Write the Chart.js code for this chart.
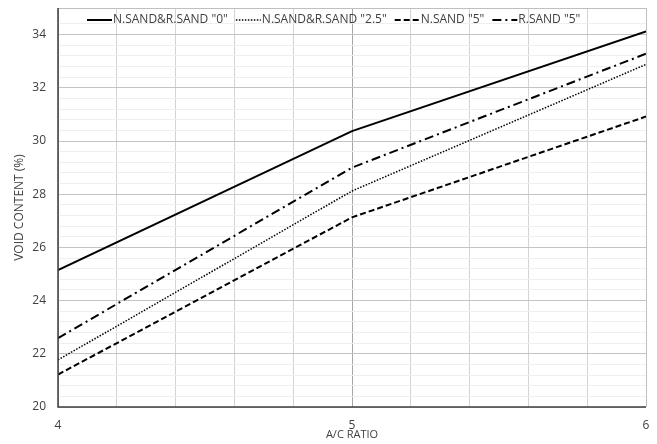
<!DOCTYPE html>
<html>
<head>
<meta charset="utf-8">
<script src="https://cdn.jsdelivr.net/npm/chart.js@4"></script>
<style>
  html, body { margin: 0; padding: 0; background: #fff; }
  #wrap { width: 657px; height: 444px; }
</style>
</head>
<body>
<div id="wrap"><canvas id="chart" width="657" height="444"></canvas></div>
<script>
const ratios = [4, 5, 6];
const sand0 = [25.15, 30.37, 34.12];
const sand25 = [21.77, 28.12, 32.88];
const nsand5 = [21.22, 27.13, 30.92];
const rsand5 = [22.59, 29.0, 33.28];
const labels = ['N.SAND&R.SAND "0"', 'N.SAND&R.SAND "2.5"', 'N.SAND "5"', 'R.SAND "5"'];

const FONT = "'Open Sans', 'DejaVu Sans', sans-serif";

function pts(ys) {
  return ratios.map((x, i) => ({ x: x, y: ys[i] }));
}

const styles = [
  { dash: [], width: 2 },
  { dash: [1.5, 1.5], width: 1.5 },
  { dash: [6, 3], width: 2 },
  { dash: [9, 4, 2, 4], width: 2 }
];

const series = [sand0, sand25, nsand5, rsand5];

const datasets = series.map((s, i) => ({
  label: labels[i],
  data: pts(s),
  borderColor: '#000',
  borderWidth: styles[i].width,
  borderDash: styles[i].dash,
  pointRadius: 0,
  tension: 0,
  fill: false
}));

// legend drawn inside the plot, along the top edge
const innerLegend = {
  id: 'innerLegend',
  afterDatasetsDraw(chart) {
    const ctx = chart.ctx;
    const y = chart.chartArea.top + 12;
    let x = 87;
    ctx.save();
    ctx.font = '12px ' + FONT;
    ctx.textBaseline = 'middle';
    ctx.fillStyle = '#404040';
    chart.data.datasets.forEach(ds => {
      ctx.beginPath();
      ctx.setLineDash(ds.borderDash);
      ctx.lineWidth = ds.borderWidth;
      ctx.strokeStyle = '#000';
      ctx.moveTo(x, y);
      ctx.lineTo(x + 25, y);
      ctx.stroke();
      ctx.setLineDash([]);
      x += 26;
      ctx.fillText(ds.label, x, y);
      x += ctx.measureText(ds.label).width + 8;
    });
    ctx.restore();
  }
};

// frame: dark left/bottom axis lines, grey top/right border
const frame = {
  id: 'frame',
  afterDatasetsDraw(chart) {
    const a = chart.chartArea;
    const ctx = chart.ctx;
    ctx.save();
    ctx.lineWidth = 1;
    ctx.strokeStyle = '#bfbfbf';
    ctx.beginPath();
    ctx.moveTo(a.left, a.top + 0.5);
    ctx.lineTo(a.right + 0.5, a.top + 0.5);
    ctx.lineTo(a.right + 0.5, a.bottom);
    ctx.stroke();
    ctx.lineWidth = 1.5;
    ctx.strokeStyle = '#404040';
    ctx.beginPath();
    ctx.moveTo(a.left, a.top);
    ctx.lineTo(a.left, a.bottom);
    ctx.lineTo(a.right, a.bottom);
    ctx.stroke();
    ctx.restore();
  }
};

function near(v, step) {
  return Math.abs(v / step - Math.round(v / step)) < 1e-6;
}

new Chart(document.getElementById('chart'), {
  type: 'line',
  data: { datasets: datasets },
  options: {
    responsive: false,
    animation: false,
    layout: { padding: { top: 8, right: 11, left: 0, bottom: 0 } },
    plugins: {
      legend: { display: false },
      tooltip: { enabled: false }
    },
    scales: {
      x: {
        type: 'linear',
        min: 4,
        max: 6,
        afterFit(scale) {
          scale.height = 37;
          scale.paddingLeft = 0;
          scale.paddingRight = 0;
        },
        ticks: {
          stepSize: 0.2,
          autoSkip: false,
          maxRotation: 0,
          padding: 11,
          color: '#404040',
          font: { family: FONT, size: 12 },
          callback: v => near(v, 1) ? String(Math.round(v)) : ''
        },
        grid: {
          drawTicks: false,
          lineWidth: 1,
          color: c => near(c.tick.value, 1) ? '#a6a6a6' : '#d4d4d4'
        },
        border: { display: false },
        title: {
          display: true,
          text: 'A/C RATIO',
          color: '#404040',
          font: { family: FONT, size: 11 },
          padding: { top: 0, bottom: 3 }
        }
      },
      y: {
        type: 'linear',
        min: 20,
        max: 35,
        afterFit(scale) {
          scale.width = 58;
          scale.paddingTop = 0;
          scale.paddingBottom = 0;
        },
        ticks: {
          stepSize: 0.4,
          autoSkip: false,
          padding: 12,
          color: '#404040',
          font: { family: FONT, size: 12 },
          callback: v => (near(v, 2) && v < 35) ? String(Math.round(v)) : ''
        },
        grid: {
          drawTicks: false,
          lineWidth: 1,
          color: c => near(c.tick.value, 2) ? '#c4c4c4' : '#efefef'
        },
        border: { display: false },
        title: {
          display: true,
          text: 'VOID CONTENT (%)',
          color: '#404040',
          font: { family: FONT, size: 12 },
          padding: { top: 12, bottom: 0 }
        }
      }
    }
  },
  plugins: [innerLegend, frame]
});
</script>
</body>
</html>
